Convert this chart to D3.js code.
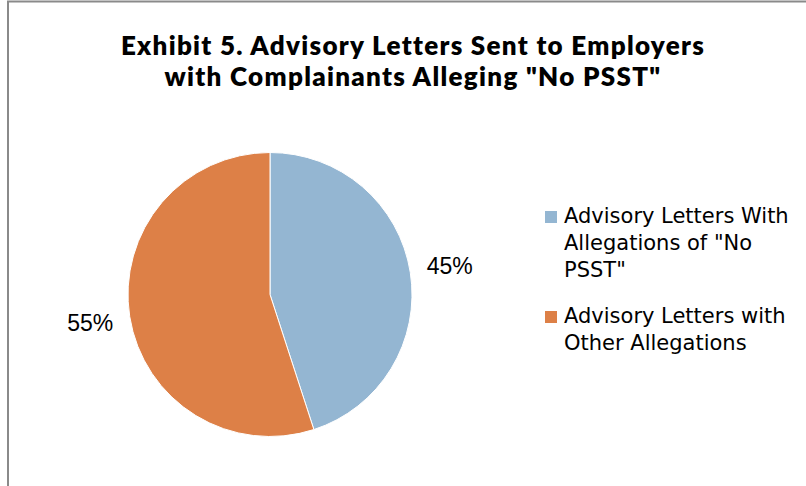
<!DOCTYPE html>
<html>
<head>
<meta charset="utf-8">
<script src="https://cdn.jsdelivr.net/npm/d3@7"></script>
<style>
  html, body { margin: 0; padding: 0; background: #fff; }
  svg { display: block; }
  .title { font-family: Lato, "Liberation Sans", sans-serif; font-weight: 800; font-size: 26px; letter-spacing: 1.3px; fill: #000; }
  .pct { font-family: "Liberation Sans", Arial, sans-serif; font-size: 23px; fill: #000; }
  .legend text { font-family: "DejaVu Sans", sans-serif; font-size: 21px; fill: #000; }
</style>
</head>
<body>
<svg id="chart"></svg>
<script>
const titleLines = ["Exhibit 5. Advisory Letters Sent to Employers", "with Complainants Alleging \"No PSST\""];
const categories = ["Advisory Letters With Allegations of \"No PSST\"", "Advisory Letters with Other Allegations"];
const legendLines = [["Advisory Letters With", "Allegations of \"No", "PSST\""], ["Advisory Letters with", "Other Allegations"]];
const values = [45, 55];
const colors = ["#94B6D2", "#DD8047"];

const W = 806, H = 486;
const svg = d3.select("#chart").attr("width", W).attr("height", H);

// chart frame (cut off at right/bottom like the source)
svg.append("rect").attr("x", 8).attr("y", 1.5).attr("width", W + 20).attr("height", H + 20)
  .attr("fill", "none").attr("stroke", "#8a8a8a").attr("stroke-width", 2);

titleLines.forEach((t, i) => svg.append("text").attr("class", "title").attr("text-anchor", "middle")
  .attr("x", 413).attr("y", 55 + i * 31).text(t));

const cx = 270, cy = 294.5, r = 142;
const data = categories.map((c, i) => ({ cat: c, value: values[i], color: colors[i] }));
const pie = d3.pie().sort(null).value((d) => d.value);
const arc = d3.arc().innerRadius(0).outerRadius(r);
const arcs = pie(data);

const g = svg.append("g").attr("transform", `translate(${cx},${cy})`);
g.selectAll("path").data(arcs).join("path")
  .attr("d", arc).attr("fill", (d) => d.data.color)
  .attr("stroke", "#fff").attr("stroke-width", 1);

const labelArc = d3.arc().innerRadius(r + 40).outerRadius(r + 40);
g.selectAll("text.pct").data(arcs).join("text")
  .attr("class", "pct")
  .attr("transform", (d) => `translate(${labelArc.centroid(d)})`)
  .attr("text-anchor", "middle").attr("dominant-baseline", "central")
  .text((d) => d.data.value + "%");

const legend = svg.append("g").attr("class", "legend");
const tops = [211, 311];
legendLines.forEach((lines, i) => {
  legend.append("rect").attr("x", 545).attr("y", tops[i]).attr("width", 12).attr("height", 12).attr("fill", colors[i]);
  const t = legend.append("text");
  lines.forEach((l, j) => t.append("tspan").attr("x", 564).attr("y", tops[i] + 12 + j * 27).text(l));
});
</script>
</body>
</html>
